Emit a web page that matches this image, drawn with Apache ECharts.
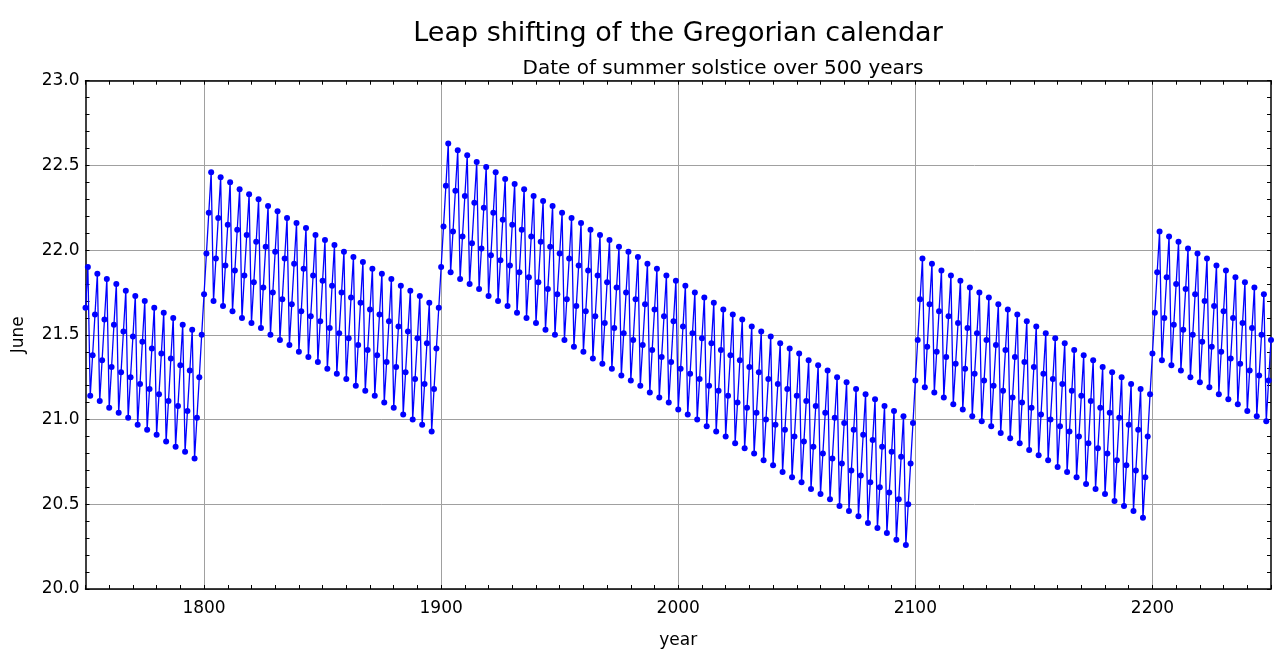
<!DOCTYPE html>
<html>
<head>
<meta charset="utf-8">
<script src="https://cdn.jsdelivr.net/npm/echarts@6/dist/echarts.min.js"></script>
<style>
html, body { margin: 0; padding: 0; background: #ffffff; }
#chart { width: 1280px; height: 672px; }
</style>
</head>
<body>
<div id="chart"></div>
<script>
// ---- Text ----
const chartTitle = 'Leap shifting of the Gregorian calendar';
const chartSubtitle = 'Date of summer solstice over 500 years';
const xAxisName = 'year';
const yAxisName = 'June';

// ---- Data: day of June of the summer solstice, one value per year ----
const firstYear = 1750;
const june1750s = [ // 1750-1799
  21.66, 21.90,
  21.14, 21.38, 21.62, 21.86,
  21.11, 21.35, 21.59, 21.83,
  21.07, 21.31, 21.56, 21.80,
  21.04, 21.28, 21.52, 21.76,
  21.01, 21.25, 21.49, 21.73,
  20.97, 21.21, 21.46, 21.70,
  20.94, 21.18, 21.42, 21.66,
  20.91, 21.15, 21.39, 21.63,
  20.87, 21.11, 21.36, 21.60,
  20.84, 21.08, 21.32, 21.56,
  20.81, 21.05, 21.29, 21.53,
  20.77, 21.01, 21.25, 21.50
];
const june1800s = [ // 1800-1899
  21.74, 21.98, 22.22, 22.46,
  21.70, 21.95, 22.19, 22.43,
  21.67, 21.91, 22.15, 22.40,
  21.64, 21.88, 22.12, 22.36,
  21.60, 21.85, 22.09, 22.33,
  21.57, 21.81, 22.05, 22.30,
  21.54, 21.78, 22.02, 22.26,
  21.50, 21.75, 21.99, 22.23,
  21.47, 21.71, 21.95, 22.19,
  21.44, 21.68, 21.92, 22.16,
  21.40, 21.64, 21.89, 22.13,
  21.37, 21.61, 21.85, 22.09,
  21.34, 21.58, 21.82, 22.06,
  21.30, 21.54, 21.79, 22.03,
  21.27, 21.51, 21.75, 21.99,
  21.24, 21.48, 21.72, 21.96,
  21.20, 21.44, 21.69, 21.93,
  21.17, 21.41, 21.65, 21.89,
  21.14, 21.38, 21.62, 21.86,
  21.10, 21.34, 21.58, 21.83,
  21.07, 21.31, 21.55, 21.79,
  21.03, 21.28, 21.52, 21.76,
  21.00, 21.24, 21.48, 21.73,
  20.97, 21.21, 21.45, 21.69,
  20.93, 21.18, 21.42, 21.66
];
const june1900s = [ // 1900-1999
  21.90, 22.14, 22.38, 22.63,
  21.87, 22.11, 22.35, 22.59,
  21.83, 22.08, 22.32, 22.56,
  21.80, 22.04, 22.28, 22.52,
  21.77, 22.01, 22.25, 22.49,
  21.73, 21.97, 22.22, 22.46,
  21.70, 21.94, 22.18, 22.42,
  21.67, 21.91, 22.15, 22.39,
  21.63, 21.87, 22.12, 22.36,
  21.60, 21.84, 22.08, 22.32,
  21.57, 21.81, 22.05, 22.29,
  21.53, 21.77, 22.02, 22.26,
  21.50, 21.74, 21.98, 22.22,
  21.47, 21.71, 21.95, 22.19,
  21.43, 21.67, 21.91, 22.16,
  21.40, 21.64, 21.88, 22.12,
  21.36, 21.61, 21.85, 22.09,
  21.33, 21.57, 21.81, 22.06,
  21.30, 21.54, 21.78, 22.02,
  21.26, 21.51, 21.75, 21.99,
  21.23, 21.47, 21.71, 21.96,
  21.20, 21.44, 21.68, 21.92,
  21.16, 21.41, 21.65, 21.89,
  21.13, 21.37, 21.61, 21.85,
  21.10, 21.34, 21.58, 21.82
];
const june2000s = [ // 2000-2099
  21.06, 21.30, 21.55, 21.79,
  21.03, 21.27, 21.51, 21.75,
  21.00, 21.24, 21.48, 21.72,
  20.96, 21.20, 21.45, 21.69,
  20.93, 21.17, 21.41, 21.65,
  20.90, 21.14, 21.38, 21.62,
  20.86, 21.10, 21.35, 21.59,
  20.83, 21.07, 21.31, 21.55,
  20.80, 21.04, 21.28, 21.52,
  20.76, 21.00, 21.24, 21.49,
  20.73, 20.97, 21.21, 21.45,
  20.69, 20.94, 21.18, 21.42,
  20.66, 20.90, 21.14, 21.39,
  20.63, 20.87, 21.11, 21.35,
  20.59, 20.84, 21.08, 21.32,
  20.56, 20.80, 21.04, 21.29,
  20.53, 20.77, 21.01, 21.25,
  20.49, 20.74, 20.98, 21.22,
  20.46, 20.70, 20.94, 21.18,
  20.43, 20.67, 20.91, 21.15,
  20.39, 20.63, 20.88, 21.12,
  20.36, 20.60, 20.84, 21.08,
  20.33, 20.57, 20.81, 21.05,
  20.29, 20.53, 20.78, 21.02,
  20.26, 20.50, 20.74, 20.98
];
const june2100s = [ // 2100-2199
  21.23, 21.47, 21.71, 21.95,
  21.19, 21.43, 21.68, 21.92,
  21.16, 21.40, 21.64, 21.88,
  21.13, 21.37, 21.61, 21.85,
  21.09, 21.33, 21.57, 21.82,
  21.06, 21.30, 21.54, 21.78,
  21.02, 21.27, 21.51, 21.75,
  20.99, 21.23, 21.47, 21.72,
  20.96, 21.20, 21.44, 21.68,
  20.92, 21.17, 21.41, 21.65,
  20.89, 21.13, 21.37, 21.62,
  20.86, 21.10, 21.34, 21.58,
  20.82, 21.07, 21.31, 21.55,
  20.79, 21.03, 21.27, 21.51,
  20.76, 21.00, 21.24, 21.48,
  20.72, 20.96, 21.21, 21.45,
  20.69, 20.93, 21.17, 21.41,
  20.66, 20.90, 21.14, 21.38,
  20.62, 20.86, 21.11, 21.35,
  20.59, 20.83, 21.07, 21.31,
  20.56, 20.80, 21.04, 21.28,
  20.52, 20.76, 21.01, 21.25,
  20.49, 20.73, 20.97, 21.21,
  20.46, 20.70, 20.94, 21.18,
  20.42, 20.66, 20.90, 21.15
];
const june2200s = [ // 2200-2250
  21.39, 21.63, 21.87, 22.11,
  21.35, 21.60, 21.84, 22.08,
  21.32, 21.56, 21.80, 22.05,
  21.29, 21.53, 21.77, 22.01,
  21.25, 21.50, 21.74, 21.98,
  21.22, 21.46, 21.70, 21.95,
  21.19, 21.43, 21.67, 21.91,
  21.15, 21.40, 21.64, 21.88,
  21.12, 21.36, 21.60, 21.84,
  21.09, 21.33, 21.57, 21.81,
  21.05, 21.29, 21.54, 21.78,
  21.02, 21.26, 21.50, 21.74,
  20.99, 21.23, 21.47
];

// ---- Axis ranges / ticks ----
const xMin = 1750, xMax = 2250, xStep = 50;
const yMin = 20, yMax = 23, yStep = 0.5;

const solsticeDays = [].concat(june1750s, june1800s, june1900s, june2000s, june2100s, june2200s);
const seriesData = solsticeDays.map((v, i) => [firstYear + i, v]);

const FONT = '"DejaVu Sans", "Liberation Sans", sans-serif';
const BLUE = '#0000ff';
const GRID_GRAY = '#a0a0a0';

const chart = echarts.init(document.getElementById('chart'), null, { renderer: 'canvas' });

const tickCommon = {
  axisLine: { show: true, onZero: false, lineStyle: { color: '#000', width: 1.5 } },
  axisTick: { show: true, inside: true, length: 4, lineStyle: { color: '#000', width: 1 } },
  minorTick: { show: true, splitNumber: 5, length: 4, lineStyle: { color: '#000', width: 1 } }
};

const option = {
  animation: false,
  backgroundColor: '#ffffff',
  graphic: [
    {
      type: 'text', x: 678, y: 34, silent: true,
      style: { text: chartTitle, fill: '#000', fontSize: 27, fontFamily: FONT, align: 'center', verticalAlign: 'middle' }
    },
    {
      type: 'text', x: 723, y: 69, silent: true,
      style: { text: chartSubtitle, fill: '#000', fontSize: 20, fontFamily: FONT, align: 'center', verticalAlign: 'middle' }
    }
  ],
  grid: { left: 85.5, right: 9, top: 80.7, bottom: 83, containLabel: false },
  xAxis: [
    Object.assign({
      type: 'value', min: xMin, max: xMax, interval: xStep, position: 'bottom',
      name: xAxisName, nameLocation: 'middle', nameGap: 43,
      nameTextStyle: { color: '#000', fontSize: 17, fontFamily: FONT },
      axisLabel: {
        show: true, margin: 11, color: '#000', fontSize: 17, fontFamily: FONT,
        formatter: v => (v % 100 === 0 && v > xMin && v < xMax) ? String(v) : ''
      },
      splitLine: { show: true, lineStyle: { color: ['rgba(0,0,0,0)', GRID_GRAY], width: 1 } }
    }, tickCommon),
    Object.assign({
      type: 'value', min: xMin, max: xMax, interval: xStep, position: 'top',
      axisLabel: { show: false }, splitLine: { show: false }
    }, tickCommon)
  ],
  yAxis: [
    Object.assign({
      type: 'value', min: yMin, max: yMax, interval: yStep, position: 'left',
      name: yAxisName, nameLocation: 'middle', nameGap: 58, nameRotate: 90,
      nameTextStyle: { color: '#000', fontSize: 17, fontFamily: FONT },
      axisLabel: {
        show: true, margin: 6, color: '#000', fontSize: 17, fontFamily: FONT,
        formatter: v => v.toFixed(1)
      },
      splitLine: { show: true, lineStyle: { color: GRID_GRAY, width: 1 } }
    }, tickCommon),
    Object.assign({
      type: 'value', min: yMin, max: yMax, interval: yStep, position: 'right',
      axisLabel: { show: false }, splitLine: { show: false }
    }, tickCommon)
  ],
  series: [
    {
      type: 'line',
      name: chartSubtitle,
      xAxisIndex: 0,
      yAxisIndex: 0,
      data: seriesData,
      symbol: 'circle',
      symbolSize: 6,
      showAllSymbol: true,
      clip: false,
      lineStyle: { color: BLUE, width: 1.3 },
      itemStyle: { color: BLUE, borderWidth: 0 },
      emphasis: { disabled: true }
    }
  ]
};

chart.setOption(option);
</script>
</body>
</html>
